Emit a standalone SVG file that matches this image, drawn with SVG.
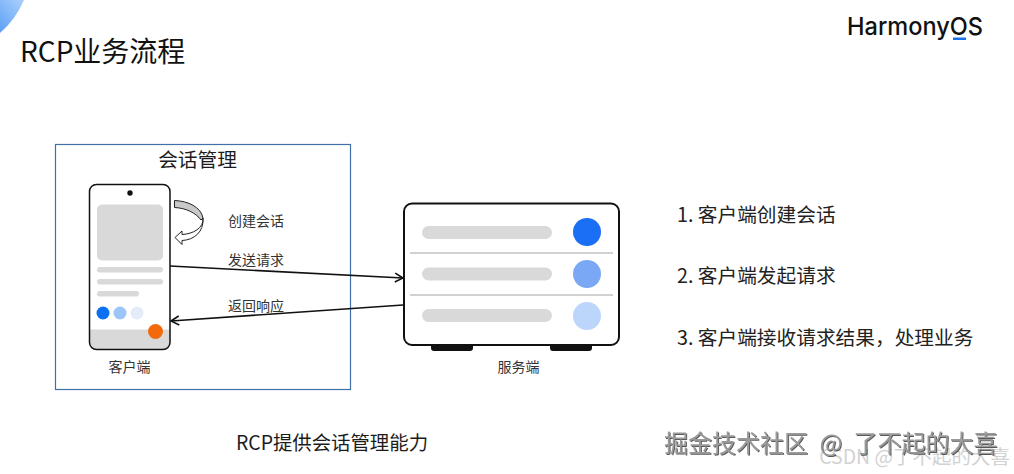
<svg xmlns="http://www.w3.org/2000/svg" width="1014" height="474" viewBox="0 0 1014 474">
<style>
text{font-family:"Noto Sans CJK SC","Noto Sans",sans-serif;fill:#1c1c1c}
.s{font-size:14px;text-anchor:middle;fill:#333}
.l{font-size:19.700px;fill:#222}
.g{fill:#d9d9d9}
.conn{fill:none;stroke:#111;stroke-width:1.600}
</style>
<defs>
<linearGradient id="corner" x1="0.8" y1="0" x2="0" y2="1"><stop offset="0" stop-color="#a5cdfb"/><stop offset="1" stop-color="#5c9ff6"/></linearGradient>
<marker id="open" markerUnits="userSpaceOnUse" markerWidth="12" markerHeight="12" refX="10" refY="6" orient="auto"><path d="M2 1.500L10 6L2 10.500" fill="none" stroke="#111" stroke-width="1.600"/></marker>
<filter id="emb" x="-5%" y="-20%" width="110%" height="140%"><feDropShadow dx="1" dy="1" stdDeviation="0.400" flood-color="#333" flood-opacity=".8"/></filter>
</defs>
<rect width="1014" height="474" fill="#fff"/>
<path d="M0 0H24Q16 19 0 33Z" fill="url(#corner)"/>
<text id="title" x="20" y="62" font-size="28" style="fill:#111">RCP业务流程</text>
<g id="logo"><text x="847" y="35" font-size="24.500" font-weight="500" textLength="136" lengthAdjust="spacingAndGlyphs" style="font-family:Inter,'Noto Sans',sans-serif;fill:#111">HarmonyOS</text><rect x="953" y="37.500" width="13" height="2.500" fill="#1a73e8"/></g>
<g id="session-box"><rect x="55.500" y="144.500" width="295" height="245" fill="none" stroke="#3f70a8" stroke-width="1.200"/><text x="197.500" y="167" font-size="19.700" text-anchor="middle" fill="#222">会话管理</text></g>
<g id="client">
<rect x="89.500" y="184.500" width="80.500" height="165" rx="7" fill="#fff"/>
<path d="M90 329.500H170V343a6 6 0 0 1-6 6H96a6 6 0 0 1-6-6Z" class="g"/>
<rect x="89.500" y="184.500" width="80.500" height="165" rx="7" fill="none" stroke="#111" stroke-width="1.500"/>
<circle cx="130" cy="193" r="2.700" fill="#111"/>
<rect x="97" y="204.500" width="66" height="56" rx="5" class="g"/>
<rect x="97" y="267" width="66" height="5.500" rx="2.700" class="g"/>
<rect x="97" y="279" width="66" height="5.500" rx="2.700" class="g"/>
<rect x="97" y="291" width="42" height="5.500" rx="2.700" class="g"/>
<circle cx="103" cy="313" r="6.500" fill="#0a6ff0"/>
<circle cx="120" cy="313" r="6.500" fill="#9cc5f8"/>
<circle cx="137" cy="313" r="6.500" fill="#e3ecf8"/>
<circle cx="155.500" cy="331.500" r="7.500" fill="#f26a0c"/>
<text class="s" x="129.500" y="372">客户端</text>
</g>
<g id="server">
<rect x="404" y="203.500" width="215" height="141.500" rx="8" fill="#fff" stroke="#111" stroke-width="2"/>
<path d="M431 346H473V348a3 3 0 0 1-3 3H434a3 3 0 0 1-3-3ZM550 346H592V348a3 3 0 0 1-3 3H553a3 3 0 0 1-3-3Z" fill="#111"/>
<rect x="422" y="226" width="130" height="13" rx="6.500" class="g"/>
<rect x="422" y="267.500" width="130" height="13" rx="6.500" class="g"/>
<rect x="422" y="309" width="130" height="13" rx="6.500" class="g"/>
<path d="M410 253H613M410 295H613" stroke="#a3a3a3" stroke-width="1.200"/>
<circle cx="587" cy="232" r="14" fill="#1a6ff5"/>
<circle cx="587" cy="274" r="14" fill="#7aa8f5"/>
<circle cx="587" cy="316" r="14" fill="#bcd6fb"/>
<text class="s" x="518.500" y="372">服务端</text>
</g>
<g id="connectors">
<path d="M174.500 200.500V207.500C186 208 196 213 201 220L203 218C201 207 188 201 174.500 200.500Z" fill="#c9c9c9" stroke="#222" stroke-width="1"/>
<path d="M203 218C204 228 193 234 182 234.500V231L175 237.500L182 244.500V240.500C194 240 204 232 203 218Z" fill="#fff" stroke="#222" stroke-width="1"/>
<path class="conn" d="M170 266L403 278" marker-end="url(#open)"/>
<path class="conn" d="M403 305L171 321" marker-end="url(#open)"/>
<text class="s" x="256" y="226">创建会话</text>
<text class="s" x="256" y="264.500">发送请求</text>
<text class="s" x="256" y="310.500">返回响应</text>
</g>
<g id="steps">
<text class="l" x="677" y="221.500">1. 客户端创建会话</text>
<text class="l" x="677" y="282.500">2. 客户端发起请求</text>
<text class="l" x="677" y="344.500">3. 客户端接收请求结果，处理业务</text>
</g>
<text id="caption" x="332" y="450" font-size="19.400" text-anchor="middle" fill="#222">RCP提供会话管理能力</text>
<text id="wm2" x="1010" y="464" font-size="19.500" text-anchor="end" style="fill:#d2d2d2">CSDN @了不起的大喜</text>
<text id="wm1" x="664" y="452" font-size="24" word-spacing="6" style="fill:#9a9a9a" filter="url(#emb)">掘金技术社区 @ 了不起的大喜</text>
</svg>
